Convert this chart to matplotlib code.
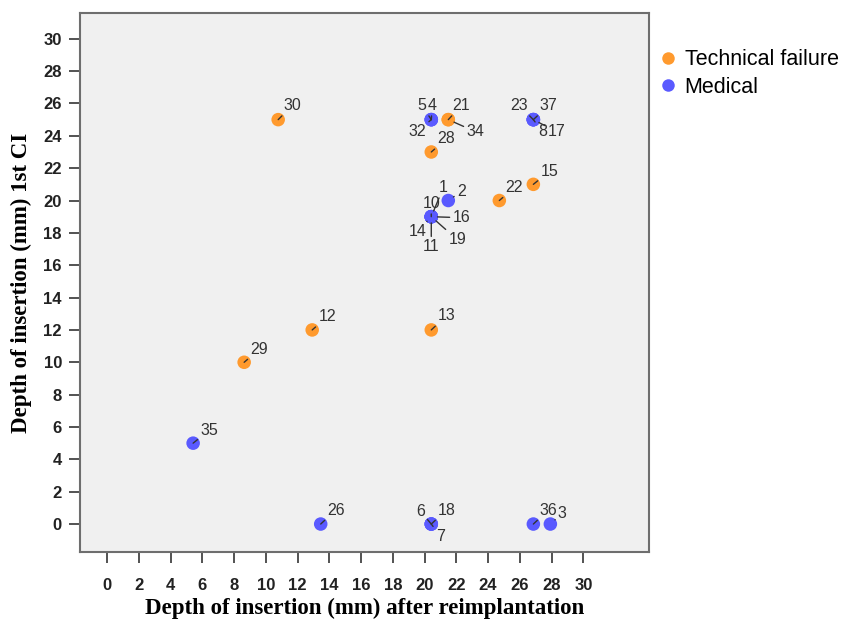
import numpy as np
import matplotlib.pyplot as plt
from matplotlib.lines import Line2D

# ---------------------------------------------------
# DATA (one row per case)
# ---------------------------------------------------
case_ids = [30, 12, 29, 13, 28, 15, 22, 21, 34,
            35, 26, 2, 5, 4, 32, 23, 37, 8, 17,
            1, 10, 16, 14, 19, 11, 6, 18, 7, 36, 3]
depth_reimpl = [10, 12, 8, 19, 19, 25, 23, 20, 20,
                5, 12.5, 20, 19, 19, 19, 25, 25, 25, 25,
                19, 19, 19, 19, 19, 19, 19, 19, 19, 25, 26]
depth_first = [25, 12, 10, 12, 23, 21, 20, 25, 25,
               5, 0, 20, 25, 25, 25, 25, 25, 25, 25,
               19, 19, 19, 19, 19, 19, 0, 0, 0, 0, 0]
group = ['Technical failure'] * 9 + ['Medical'] * 21

categories = ['Technical failure', 'Medical']
colors = {'Technical failure': '#FF9A2E', 'Medical': '#5A5AFF'}

y_ticks = list(range(0, 31, 2))
x_tick_labels = list(range(0, 31, 2))

# label offsets (pixels) from each point, as placed in the original chart
label_offsets = {
    30: (14, 14), 12: (15, 13), 29: (15, 13), 13: (15, 14), 28: (15, 13),
    15: (16, 13), 22: (15, 13), 21: (13, 14), 34: (27, -12),
    35: (16, 13), 26: (15, 14), 2: (13, 9), 5: (-9, 14), 4: (1, 14),
    32: (-14, -12), 23: (-14, 14), 37: (15, 14), 8: (9, -12), 17: (23, -12),
    1: (12, 29), 10: (0, 13), 16: (30, -1), 14: (-14, -15), 19: (26, -23),
    11: (0, -30), 6: (-11, 13), 18: (15, 14), 7: (9, -12), 36: (15, 14),
    3: (12, 11),
}

# ---------------------------------------------------
# FIGURE
# ---------------------------------------------------
plt.rcParams['font.family'] = ['Liberation Sans', 'DejaVu Sans']

fig = plt.figure(figsize=(8.43, 6.19), dpi=100)
ax = fig.add_axes([0.0949, 0.1082, 0.675, 0.871])
ax.set_facecolor('#F0F0F0')
for s in ax.spines.values():
    s.set_color('#6E6E6E')
    s.set_linewidth(1.5)

x = np.array(depth_reimpl, dtype=float)
y = np.array(depth_first, dtype=float)
g = np.array(group)

for cat in categories:
    m = g == cat
    ax.scatter(x[m], y[m], s=95, color=colors[cat], edgecolors='none',
               zorder=3)

for cid, xi, yi in zip(case_ids, x, y):
    dx, dy = label_offsets[cid]
    ax.annotate(str(cid), (xi, yi), xytext=(dx, dy),
                textcoords='offset pixels', ha='center', va='center',
                fontsize=11.5, color='#333333', zorder=4,
                arrowprops=dict(arrowstyle='-', color='#333333', lw=1.0,
                                shrinkA=0, shrinkB=4.5))

ax.set_xlim(-1.65, 31.8)
ax.set_ylim(-1.73, 31.6)

ax.set_yticks(y_ticks)
ax.set_yticklabels([str(v) for v in y_ticks], fontweight='bold', fontsize=12)
# x tick labels sit on a slightly compressed scale in the original
xt = np.array(x_tick_labels)
ax.set_xticks(xt * 28.0 / 30.0 - 0.06)
ax.set_xticklabels([str(v) for v in x_tick_labels], fontweight='bold',
                   fontsize=12)
ax.tick_params(axis='both', direction='out', length=8, width=1.3,
               color='#444444', labelcolor='#222222')
ax.tick_params(axis='x', pad=11)
ax.tick_params(axis='y', pad=5)

ax.set_xlabel('Depth of insertion (mm) after reimplantation',
              family='Liberation Serif', fontsize=16.5, fontweight='bold',
              labelpad=3)
ax.set_ylabel('Depth of insertion (mm) 1st CI', family='Liberation Serif',
              fontsize=16.5, fontweight='bold', labelpad=8)

# ---------------------------------------------------
# LEGEND
# ---------------------------------------------------
handles = [Line2D([], [], marker='o', linestyle='none', markersize=9,
                  markerfacecolor=colors[c], markeredgecolor='none', label=c)
           for c in categories]
fig.legend(handles=handles, loc='upper left', bbox_to_anchor=(0.775, 0.934),
           frameon=False, fontsize=15.5, handletextpad=0.45, labelspacing=0.3,
           borderaxespad=0, handlelength=0.6)

fig.savefig('out.png', dpi=100, facecolor='white')
